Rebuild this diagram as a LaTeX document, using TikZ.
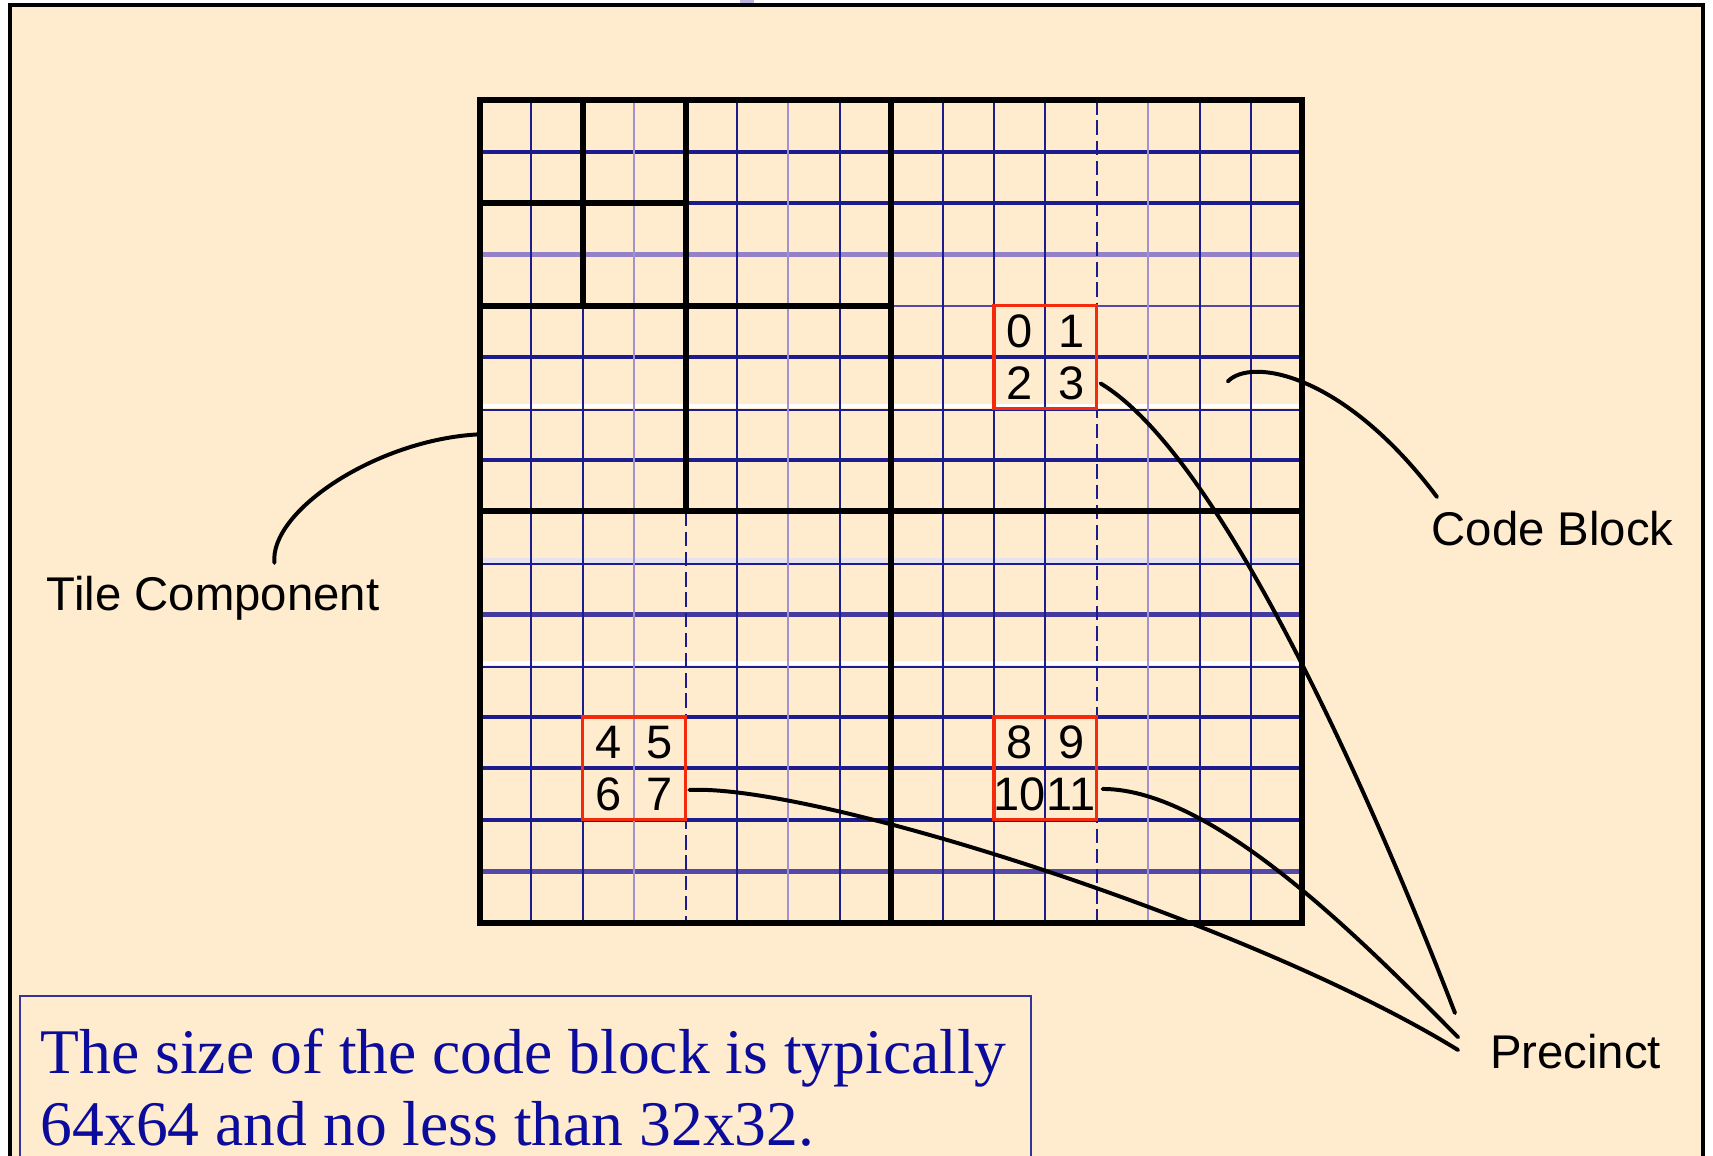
\documentclass[tikz,border=0pt]{standalone}
\usepackage{fontspec}
\usepackage{xcolor}
\usepackage{tikz}
\usetikzlibrary{calc}
\newfontfamily\lblfont{Liberation Sans}
\newfontfamily\notefont{Liberation Serif}
\definecolor{jpBack}{HTML}{FFECCF}
\definecolor{jpNavy}{HTML}{1C1C8E}
\definecolor{jpLilac}{HTML}{A092CE}
\definecolor{jpPurple}{HTML}{9482C8}
\definecolor{jpViolet}{HTML}{5448A8}
\definecolor{jpMist}{HTML}{E6E2F2}
\definecolor{jpRed}{HTML}{F32A0C}
\definecolor{jpNote}{HTML}{0C0C9C}
\tikzset{
  % outer slide frame
  frame/.style={draw=black,line width=1.1pt,fill=jpBack},
  % note box at the bottom
  notebox/.style={draw=jpNavy!90,line width=0.55pt,fill=jpBack},
  note/.style={inner sep=0pt,font=\notefont\fontsize{17.6}{20.4}\selectfont,text=jpNote},
  % code block grid lines
  rowline/.style={draw=jpNavy,line width=1.05pt},
  rowthin/.style={draw=jpNavy,line width=0.55pt},
  rowdeep/.style={draw=jpViolet,line width=1.4pt},
  rowlight/.style={draw=jpPurple,line width=1.6pt},
  rowwhite/.style={draw=white,line width=1.3pt},
  rowmist/.style={draw=jpMist,line width=1.3pt},
  colline/.style={draw=jpNavy,line width=0.55pt},
  collight/.style={draw=jpLilac,line width=0.55pt},
  coldash/.style={draw=jpNavy,line width=0.6pt,dash pattern=on 4pt off 1.6pt},
  % tile component / subband borders
  tileline/.style={draw=black,line width=1.7pt,line cap=rect},
  % precinct boxes
  precbox/.style={draw=jpRed,line width=0.9pt},
  cbnum/.style={inner sep=0pt,minimum size=0.5cm,
    font=\lblfont\fontsize{13}{15}\selectfont},
  % labels and leaders
  lbl/.style={inner sep=0pt,font=\lblfont\fontsize{13.1}{15}\selectfont},
  lead/.style={draw=black,line width=1.1pt,line cap=round},
}
\begin{document}
\begin{tikzpicture}[x=0.5cm,y=-0.5cm]
  \useasboundingbox (-9.34,-1.95) rectangle (23.99,20.54);
  \fill[white] (-9.34,-1.95) rectangle (23.99,20.54);
  \fill[jpLilac!70] (5.06,-1.95) rectangle (5.33,-1.87);
  \draw[frame] (-9.14,-1.85) rectangle (23.79,21);

  % note
  \draw[notebox] (-8.96,17.43) rectangle (10.72,21);
  \node[note,anchor=base west] (note1) at (-8.56,18.93)
    {The size of the code block is typically};
  \node[note,anchor=base west] (note2) at (-8.56,20.33)
    {64x64 and no less than 32x32.};

  % horizontal grid lines
  \foreach \r in {1,5,7,12,13,14}
    \draw[rowline] (0,\r) -- (16,\r);
  \draw[rowline] (4,2) -- (16,2);
  \draw[rowlight] (0,3) -- (16,3);
  \draw[rowthin,draw=jpViolet] (8,4) -- (16,4);
  \foreach \r in {6,11} {
    \draw[rowwhite] (0,\r-0.05) -- (16,\r-0.05);
    \draw[rowthin] (0,\r+0.03) -- (16,\r+0.03);
  }
  \draw[rowmist] (0,8.95) -- (16,8.95);
  \draw[rowthin] (0,9.03) -- (16,9.03);
  \draw[rowdeep,draw=jpViolet!70!jpNavy] (0,10) -- (16,10);
  \draw[rowdeep] (0,15) -- (16,15);

  % vertical grid lines
  \foreach \c in {1,5,7,9,10,11,14,15}
    \draw[colline] (\c,0) -- (\c,16);
  \foreach \c in {3,6,13}
    \draw[collight] (\c,0) -- (\c,16);
  \draw[colline] (2,4) -- (2,16);
  \draw[coldash] (4,8) -- (4,16);
  \draw[coldash] (12,0) -- (12,16);

  % tile component and subbands
  \node[inner sep=0pt,minimum size=8cm] (tile) at (8,8) {};
  \draw[tileline] (0,0) rectangle (16,16);
  \draw[tileline] (8,0) -- (8,16) (0,8) -- (16,8);
  \draw[tileline] (4,0) -- (4,8) (0,4) -- (8,4);
  \draw[tileline] (2,0) -- (2,4) (0,2) -- (4,2);

  % precincts
  \draw[precbox] (10,4) rectangle (12,6);
  \draw[precbox] (2,12) rectangle (4,14);
  \draw[precbox] (10,12) rectangle (12,14);
  \foreach \c/\r/\n in {10/4/0,11/4/1,10/5/2,11/5/3,2/12/4,3/12/5,
      2/13/6,3/13/7,10/12/8,11/12/9,10/13/10,11/13/11}
    \node[cbnum] (cb\n) at (\c+0.5,\r+0.5) {\n};

  % labels
  \node[lbl,anchor=base west] (tilelbl) at (-8.44,9.92) {Tile Component};
  \node[lbl,anchor=base west] (cblbl) at (18.50,8.66) {Code Block};
  \node[lbl,anchor=base west] (preclbl) at (19.64,18.84) {Precinct};
  \coordinate (cbtip) at (14.55,5.47);

  \draw[lead] ($(tilelbl.base west)+(4.44,-0.92)$)
    .. controls +(-0.1,-1.0) and +(-2.0,0.1) .. ($(tile.west)+(0,-1.5)$);
  \draw[lead] (cbtip)
    .. controls +(0.45,-0.47) and +(-1.82,-2.42) .. ($(cblbl.base west)+(0.12,-0.94)$);
  \draw[lead] ($(cb3.east)+(0.06,0.01)$)
    .. controls +(2.5,1.5) and +(-1.3,-3.38) .. ($(preclbl.base west)+(-0.67,-1.08)$);
  \draw[lead] ($(cb11.east)+(0.1,-0.1)$)
    .. controls +(2.2,0) and +(-1.73,-1.73) .. ($(preclbl.base west)+(-0.61,-0.61)$);
  \draw[lead] ($(cb7.east)+(0.06,-0.08)$)
    .. controls +(2.44,-0.12) and +(-4.03,-2.48) .. ($(preclbl.base west)+(-0.61,-0.36)$);
\end{tikzpicture}
\end{document}
